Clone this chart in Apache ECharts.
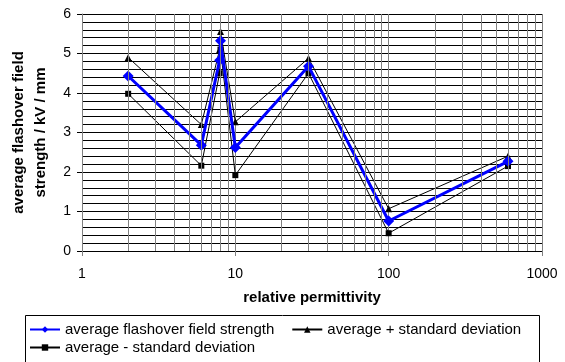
<!DOCTYPE html>
<html>
<head>
<meta charset="utf-8">
<script src="https://cdn.jsdelivr.net/npm/echarts@6/dist/echarts.min.js"></script>
<style>
  html, body { margin: 0; padding: 0; background: #fff; }
  #chart { width: 565px; height: 362px; }
</style>
</head>
<body>
<div id="chart"></div>
<script>
// relative permittivity of each material (x, log scale)
const permittivity = [2, 6, 7.9, 8, 10, 30, 100, 600];
const avgStrength = [4.43, 2.68, 4.83, 5.32, 2.62, 4.68, 0.76, 2.27];
const plusSd = [4.9, 3.2, 5.1, 5.56, 3.27, 4.88, 1.07, 2.4];
const minusSd = [3.98, 2.16, 4.5, 5.1, 1.92, 4.5, 0.45, 2.15];

// log-decade minor grid lines (2..9 in each decade)
const decades = [1, 10, 100];
const minorGrid = [];
decades.forEach((d) => {
  for (let k = 2; k <= 9; k++) minorGrid.push(d * k);
});

const FONT = "Arial, 'Liberation Sans', sans-serif";
const pairs = (ys) => permittivity.map((x, i) => [x, ys[i]]);

const chart = echarts.init(document.getElementById("chart"));

chart.setOption({
  animation: false,
  textStyle: { fontFamily: FONT },
  grid: { left: 82, right: 23, top: 14, bottom: 111 },
  xAxis: {
    type: "log",
    logBase: 10,
    min: 1,
    max: 1000,
    name: "relative permittivity",
    nameLocation: "middle",
    nameGap: 39,
    nameTextStyle: { fontFamily: FONT, fontSize: 15, fontWeight: "bold", color: "#000" },
    axisLine: { show: true, onZero: false, lineStyle: { color: "#000", width: 1 } },
    axisTick: { show: true, length: 5, lineStyle: { color: "#808080" } },
    axisLabel: {
      fontFamily: FONT,
      fontSize: 14,
      color: "#000",
      margin: 16,
      formatter: (v) => String(Math.round(v)),
    },
    splitLine: { show: true, lineStyle: { color: "#808080", width: 1 } },
  },
  yAxis: {
    type: "value",
    min: 0,
    max: 6,
    interval: 1,
    name: "average flashover field\nstrength / kV / mm",
    nameLocation: "middle",
    nameGap: 25,
    nameTextStyle: { fontFamily: FONT, fontSize: 15, fontWeight: "bold", color: "#000", lineHeight: 22 },
    axisLine: { show: true, lineStyle: { color: "#808080", width: 1 } },
    axisTick: { show: true, length: 5, lineStyle: { color: "#000" } },
    axisLabel: { fontFamily: FONT, fontSize: 14, color: "#000", margin: 11 },
    splitLine: { show: true, lineStyle: { color: "#000", width: 1 } },
    minorTick: { show: false, splitNumber: 5 },
    minorSplitLine: { show: true, lineStyle: { color: "#000", width: 1 } },
  },
  legend: [
    {
      data: ["average flashover field strength", "average + standard deviation"],
      left: 25,
      top: 322,
      padding: [0, 4],
      itemGap: 17,
      itemWidth: 30,
      itemHeight: 8,
      textStyle: { fontFamily: FONT, fontSize: 15, color: "#000" },
    },
    {
      data: ["average - standard deviation"],
      left: 25,
      top: 340,
      padding: [0, 4],
      itemWidth: 30,
      itemHeight: 8,
      textStyle: { fontFamily: FONT, fontSize: 15, color: "#000" },
    },
  ],
  graphic: [
    {
      type: "rect",
      shape: { x: 25.5, y: 315.5, width: 514, height: 60 },
      style: { fill: "none", stroke: "#000", lineWidth: 1 },
      silent: true,
    },
  ],
  series: [
    {
      name: "grid",
      type: "line",
      data: [],
      silent: true,
      z: 1,
      markLine: {
        silent: true,
        symbol: "none",
        label: { show: false },
        lineStyle: { color: "#808080", width: 1, type: "solid" },
        data: minorGrid.map((v) => ({ xAxis: v })),
      },
    },
    {
      name: "average + standard deviation",
      type: "line",
      data: pairs(plusSd),
      symbol: "triangle",
      symbolSize: 7,
      z: 3,
      lineStyle: { color: "#000", width: 1 },
      itemStyle: { color: "#000" },
    },
    {
      name: "average - standard deviation",
      type: "line",
      data: pairs(minusSd),
      symbol: "rect",
      symbolSize: 6,
      z: 3,
      lineStyle: { color: "#000", width: 1 },
      itemStyle: { color: "#000" },
    },
    {
      name: "average flashover field strength",
      type: "line",
      data: pairs(avgStrength),
      symbol: "diamond",
      symbolSize: 11,
      z: 4,
      lineStyle: { color: "#0000ff", width: 3 },
      itemStyle: { color: "#0000ff" },
    },
  ],
});
</script>
</body>
</html>
